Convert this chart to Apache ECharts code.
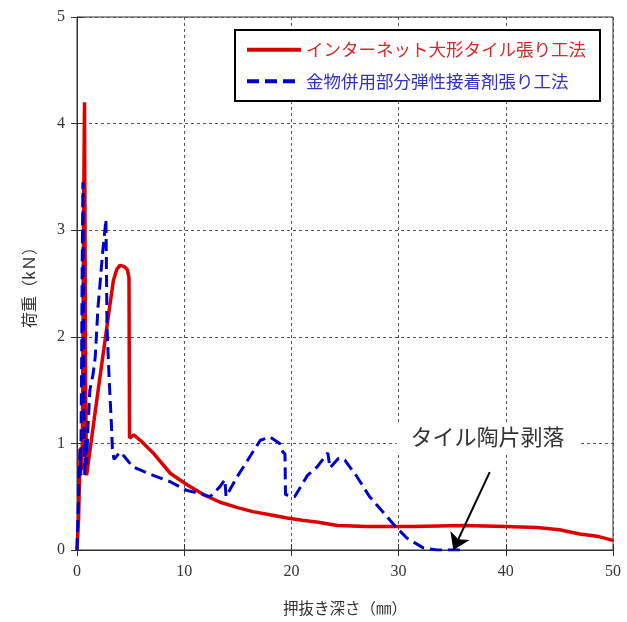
<!DOCTYPE html>
<html>
<head>
<meta charset="utf-8">
<script src="https://cdn.jsdelivr.net/npm/echarts@6/dist/echarts.min.js"></script>
<style>
  html, body { margin: 0; padding: 0; background: #fff; }
  #chart { width: 627px; height: 622px; }
</style>
</head>
<body>
<div id="chart"></div>
<script>
// インターネット大形タイル張り工法
const redDepth = [0, 0.15, 0.3, 0.4, 0.5, 0.55, 0.62, 0.7, 0.75, 0.8, 0.9, 1.5, 2.0, 2.5, 3.0, 3.4, 3.7, 4.0, 4.4, 4.7, 4.85, 4.9, 5.3, 6.0, 7.1, 8.7, 10.3, 11.8, 13.3, 14.9, 16.4, 18.0, 19.6, 21.0, 22.5, 24.3, 27.0, 31.3, 36.0, 40.0, 42.9, 45.0, 46.9, 48.5, 50.0]
const redLoad = [0, 0.3, 0.95, 0.75, 1.0, 1.8, 3.2, 4.2, 3.0, 1.5, 0.7, 1.15, 1.52, 1.88, 2.25, 2.53, 2.63, 2.67, 2.66, 2.63, 2.55, 1.05, 1.08, 1.02, 0.91, 0.72, 0.61, 0.52, 0.45, 0.40, 0.36, 0.33, 0.30, 0.28, 0.26, 0.23, 0.22, 0.22, 0.23, 0.22, 0.21, 0.19, 0.15, 0.13, 0.09]

// 金物併用部分弾性接着剤張り工法
const blueDepth = [0, 0.1, 0.2, 0.3, 0.35, 0.42, 0.48, 0.55, 0.6, 0.65, 0.72, 0.8, 0.9, 1.0, 1.2, 1.5, 1.7, 1.96, 2.1, 2.4, 2.7, 2.75, 2.8, 3.0, 3.2, 3.3, 3.45, 3.7, 4.0, 4.4, 5.2, 7.1, 8.7, 10.2, 11.8, 12.4, 13.3, 13.8, 13.9, 14.9, 15.9, 17.1, 18.0, 18.9, 19.2, 19.4, 19.45, 20.3, 21.5, 22.4, 23.4, 23.6, 24.4, 25.0, 26.1, 27.3, 28.6, 29.7, 30.8, 32.3, 33.6, 36.0]
const blueLoad = [0, 0.35, 0.75, 0.95, 0.7, 1.6, 2.6, 3.45, 2.4, 1.3, 0.7, 1.05, 0.8, 1.1, 1.5, 1.65, 1.81, 2.28, 2.44, 2.8, 3.1, 2.6, 2.1, 1.6, 1.2, 0.95, 0.85, 0.88, 0.92, 0.88, 0.78, 0.70, 0.64, 0.56, 0.52, 0.5, 0.59, 0.66, 0.5, 0.68, 0.84, 1.03, 1.06, 1.0, 0.92, 0.9, 0.52, 0.5, 0.70, 0.78, 0.91, 0.77, 0.86, 0.84, 0.69, 0.50, 0.35, 0.22, 0.11, 0.02, 0, 0]

const seriesNames = ['インターネット大形タイル張り工法', '金物併用部分弾性接着剤張り工法']
const noteText = 'タイル陶片剥落'
const noteArrow = [[38.5, 0.73], [35.1, 0]]
const notePos = [38.3, 1.06]

const pairs = (xs, ys) => xs.map((x, i) => [x, ys[i]])

const serif = '"Liberation Serif", "DejaVu Serif", serif'
const jp = '"Noto Sans CJK JP", sans-serif'

const chart = echarts.init(document.getElementById('chart'))

chart.setOption({
  animation: false,
  backgroundColor: '#fff',
  grid: {
    left: 77,
    right: 14,
    top: 17,
    bottom: 72,
    show: true,
    borderColor: '#333',
    borderWidth: 1
  },
  legend: {
    orient: 'vertical',
    left: 235,
    top: 30,
    padding: [11, 14, 11, 10],
    itemGap: 14,
    itemWidth: 54,
    itemHeight: 12,
    backgroundColor: '#fff',
    borderColor: '#000',
    borderWidth: 2,
    borderRadius: 0,
    itemStyle: { opacity: 0 },
    lineStyle: { width: 4 },
    data: [
      { name: seriesNames[0], textStyle: { color: '#d42a2a' } },
      { name: seriesNames[1], textStyle: { color: '#3232c8' } }
    ],
    textStyle: { fontFamily: jp, fontSize: 17.5 }
  },
  xAxis: [
    {
      type: 'value',
      min: 0,
      max: 50,
      interval: 10,
      name: '押抜き深さ（㎜）',
      nameLocation: 'middle',
      nameGap: 50,
      nameTextStyle: { fontFamily: jp, fontSize: 15.5, color: '#333' },
      axisLine: { lineStyle: { color: '#333', width: 1 } },
      axisTick: { inside: true, length: 6, lineStyle: { color: '#333' } },
      axisLabel: { margin: 14, fontFamily: serif, fontSize: 16, color: '#333' },
      splitLine: { show: true, lineStyle: { color: '#555', type: [3, 3], width: 1 } }
    },
    {
      type: 'value',
      position: 'top',
      min: 0,
      max: 50,
      interval: 10,
      axisLine: { show: false },
      axisTick: { show: true, inside: true, length: 6, lineStyle: { color: '#333' } },
      axisLabel: { show: false },
      splitLine: { show: false }
    }
  ],
  yAxis: [
    {
      type: 'value',
      min: 0,
      max: 5,
      interval: 1,
      name: '荷重（kＮ）',
      nameLocation: 'middle',
      nameGap: 40,
      nameRotate: 90,
      nameTextStyle: { fontFamily: jp, fontSize: 16, color: '#333' },
      axisLine: { show: true, lineStyle: { color: '#333', width: 1 } },
      axisTick: { show: true, inside: true, length: 6, lineStyle: { color: '#333' } },
      axisLabel: { margin: 12, fontFamily: serif, fontSize: 16, color: '#333' },
      splitLine: { show: true, lineStyle: { color: '#555', type: [3, 3], width: 1 } }
    },
    {
      type: 'value',
      position: 'right',
      min: 0,
      max: 5,
      interval: 1,
      axisLine: { show: false },
      axisTick: { show: true, inside: true, length: 6, lineStyle: { color: '#333' } },
      axisLabel: { show: false },
      splitLine: { show: false }
    }
  ],
  series: [
    {
      name: seriesNames[0],
      type: 'line',
      data: pairs(redDepth, redLoad),
      symbol: 'none',
      color: '#dd0000',
      lineStyle: { color: '#dd0000', width: 3.5 },
      z: 3
    },
    {
      name: seriesNames[1],
      type: 'line',
      data: pairs(blueDepth, blueLoad),
      symbol: 'none',
      color: '#0000cc',
      lineStyle: { color: '#0000cc', width: 3, type: [12, 6] },
      z: 4,
      markLine: {
        silent: true,
        symbol: ['none', 'arrow'],
        symbolSize: 16,
        label: { show: false },
        itemStyle: { color: '#000' },
        lineStyle: { color: '#000', width: 2, type: 'solid' },
        emphasis: { disabled: true },
        data: [[{ coord: noteArrow[0] }, { coord: noteArrow[1] }]]
      },
      markPoint: {
        silent: true,
        symbol: 'rect',
        symbolSize: 1,
        itemStyle: { color: 'rgba(0,0,0,0)' },
        label: {
          show: true,
          position: 'inside',
          formatter: noteText,
          fontFamily: jp,
          fontSize: 22,
          color: '#333',
          backgroundColor: '#fff',
          padding: [4, 14]
        },
        data: [{ coord: notePos }]
      }
    }
  ]
})
</script>
</body>
</html>
